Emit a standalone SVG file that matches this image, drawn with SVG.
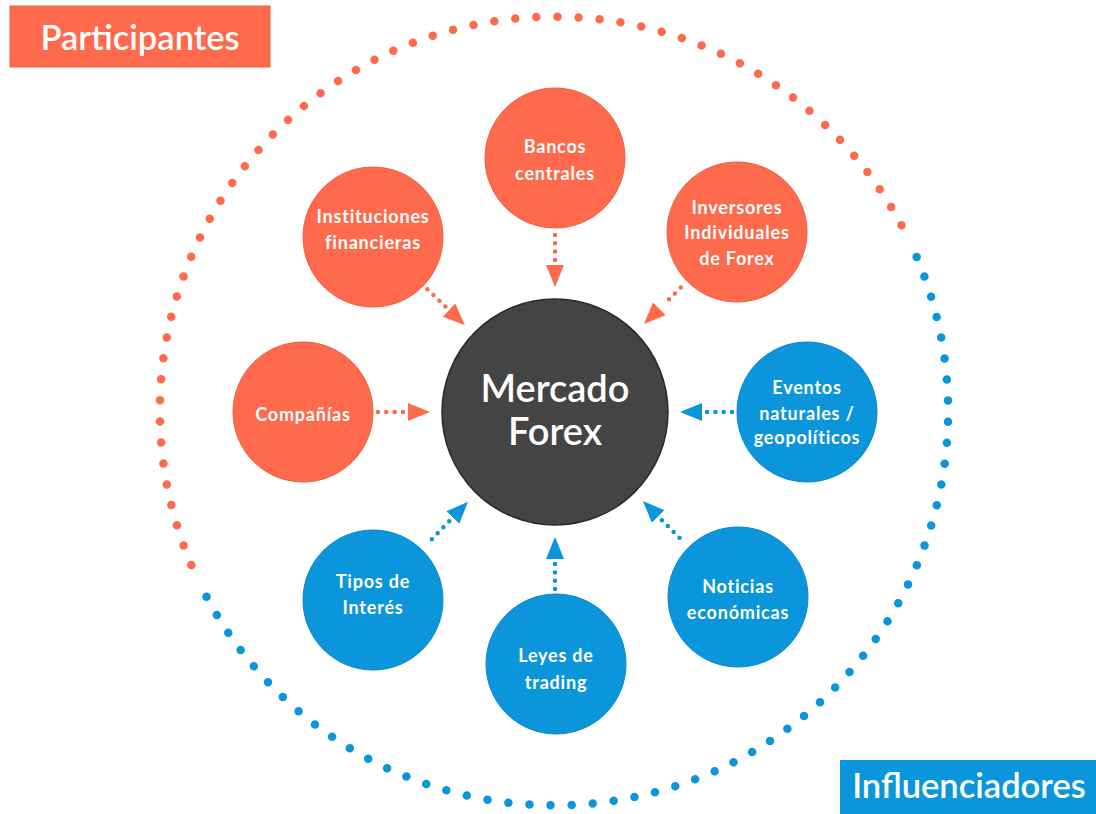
<svg xmlns="http://www.w3.org/2000/svg" width="1096" height="814" viewBox="0 0 1096 814">
  <style>
    .bg { fill: #ffffff; }
    .org { fill: #FF6A4C; stroke: #EE5E40; stroke-width: 1; }
    .blu { fill: #0B96DC; stroke: #0A88C8; stroke-width: 1; }
    .ctr { fill: #444444; stroke: #2a2a2a; stroke-width: 1.5; }
    .t { font-family: Lato, "Open Sans", sans-serif; font-weight: 700; fill: #ffffff; text-anchor: middle; }
    .s { font-size: 18px; letter-spacing: 0.8px; }
    .c { font-size: 38px; font-weight: 600; }
    .h { font-size: 34.5px; font-weight: 600; }
    .ringO { fill: none; stroke: #FF6A4C; stroke-width: 8.5; stroke-linecap: round; stroke-dasharray: 0 21.1; }
    .ringB { fill: none; stroke: #0B96DC; stroke-width: 8.5; stroke-linecap: round; stroke-dasharray: 0 21.1; }
    .aO { fill: none; stroke: #FF6A4C; stroke-width: 4.5; stroke-linecap: round; stroke-dasharray: 0 8.3; marker-end: url(#hO); }
    .aB { fill: none; stroke: #0B96DC; stroke-width: 4.5; stroke-linecap: round; stroke-dasharray: 0 8.3; marker-end: url(#hB); }
  </style>
  <defs>
    <marker id="hO" viewBox="0 0 22 18" refX="-5" refY="9" markerWidth="22" markerHeight="18" markerUnits="userSpaceOnUse" orient="auto">
      <path d="M0,0 L22,9 L0,18 Z" fill="#FF6A4C"/>
    </marker>
    <marker id="hB" viewBox="0 0 22 18" refX="-5" refY="9" markerWidth="22" markerHeight="18" markerUnits="userSpaceOnUse" orient="auto">
      <path d="M0,0 L22,9 L0,18 Z" fill="#0B96DC"/>
    </marker>
  </defs>
  <rect class="bg" x="0" y="0" width="1096" height="814"/>

  <g id="ring">
    <path class="ringO" d="M191.3,564.9 A394,394 0 0 1 901.9,226.0"/>
    <path class="ringB" d="M916.7,257.1 A394,394 0 0 1 206.1,596.0"/>
  </g>

  <g id="connectors">
    <path class="aO" d="M555,235 L555,260"/>
    <path class="aO" d="M427.4,289.3 L445.4,306.6"/>
    <path class="aO" d="M680.8,287.6 L663.1,305.1"/>
    <path class="aO" d="M378,412 L403,412"/>
    <path class="aB" d="M732,412 L707,412"/>
    <path class="aB" d="M431.9,539.2 L449.3,521.2"/>
    <path class="aB" d="M555,589 L555,564"/>
    <path class="aB" d="M679.5,537.8 L661.9,520.1"/>
  </g>

  <g id="label-participantes">
    <rect x="10" y="6" width="260" height="61" fill="#FF6A4C" stroke="#E8613F" stroke-width="1"/>
    <text class="t h" x="140" y="50">Participantes</text>
  </g>
  <g id="label-influenciadores">
    <rect x="840" y="760" width="256" height="54" fill="#0B96DC"/>
    <text class="t h" x="969" y="798">Influenciadores</text>
  </g>

  <g id="mercado">
    <circle class="ctr" cx="555" cy="412" r="113"/>
    <text class="t c" x="555" y="402">Mercado</text>
    <text class="t c" x="555" y="445">Forex</text>
  </g>

  <g id="bancos">
    <circle class="org" cx="555" cy="158" r="70"/>
    <text class="t s" x="555" y="153">Bancos</text>
    <text class="t s" x="555" y="180">centrales</text>
  </g>
  <g id="instituciones">
    <circle class="org" cx="373" cy="237" r="70"/>
    <text class="t s" x="373" y="223">Instituciones</text>
    <text class="t s" x="373" y="249">financieras</text>
  </g>
  <g id="inversores">
    <circle class="org" cx="737" cy="232" r="70"/>
    <text class="t s" x="737" y="214">Inversores</text>
    <text class="t s" x="737" y="239">Individuales</text>
    <text class="t s" x="737" y="265">de Forex</text>
  </g>
  <g id="companias">
    <circle class="org" cx="303" cy="412" r="70"/>
    <text class="t s" x="303" y="421">Compañías</text>
  </g>
  <g id="eventos">
    <circle class="blu" cx="807" cy="412" r="70"/>
    <text class="t s" x="807" y="394">Eventos</text>
    <text class="t s" x="807" y="420">naturales /</text>
    <text class="t s" x="807" y="444">geopolíticos</text>
  </g>
  <g id="tipos">
    <circle class="blu" cx="373" cy="600" r="70"/>
    <text class="t s" x="373" y="588">Tipos de</text>
    <text class="t s" x="373" y="614">Interés</text>
  </g>
  <g id="leyes">
    <circle class="blu" cx="556" cy="664" r="70"/>
    <text class="t s" x="556" y="662">Leyes de</text>
    <text class="t s" x="556" y="689">trading</text>
  </g>
  <g id="noticias">
    <circle class="blu" cx="738" cy="597" r="70"/>
    <text class="t s" x="738" y="593">Noticias</text>
    <text class="t s" x="738" y="619">económicas</text>
  </g>
</svg>
